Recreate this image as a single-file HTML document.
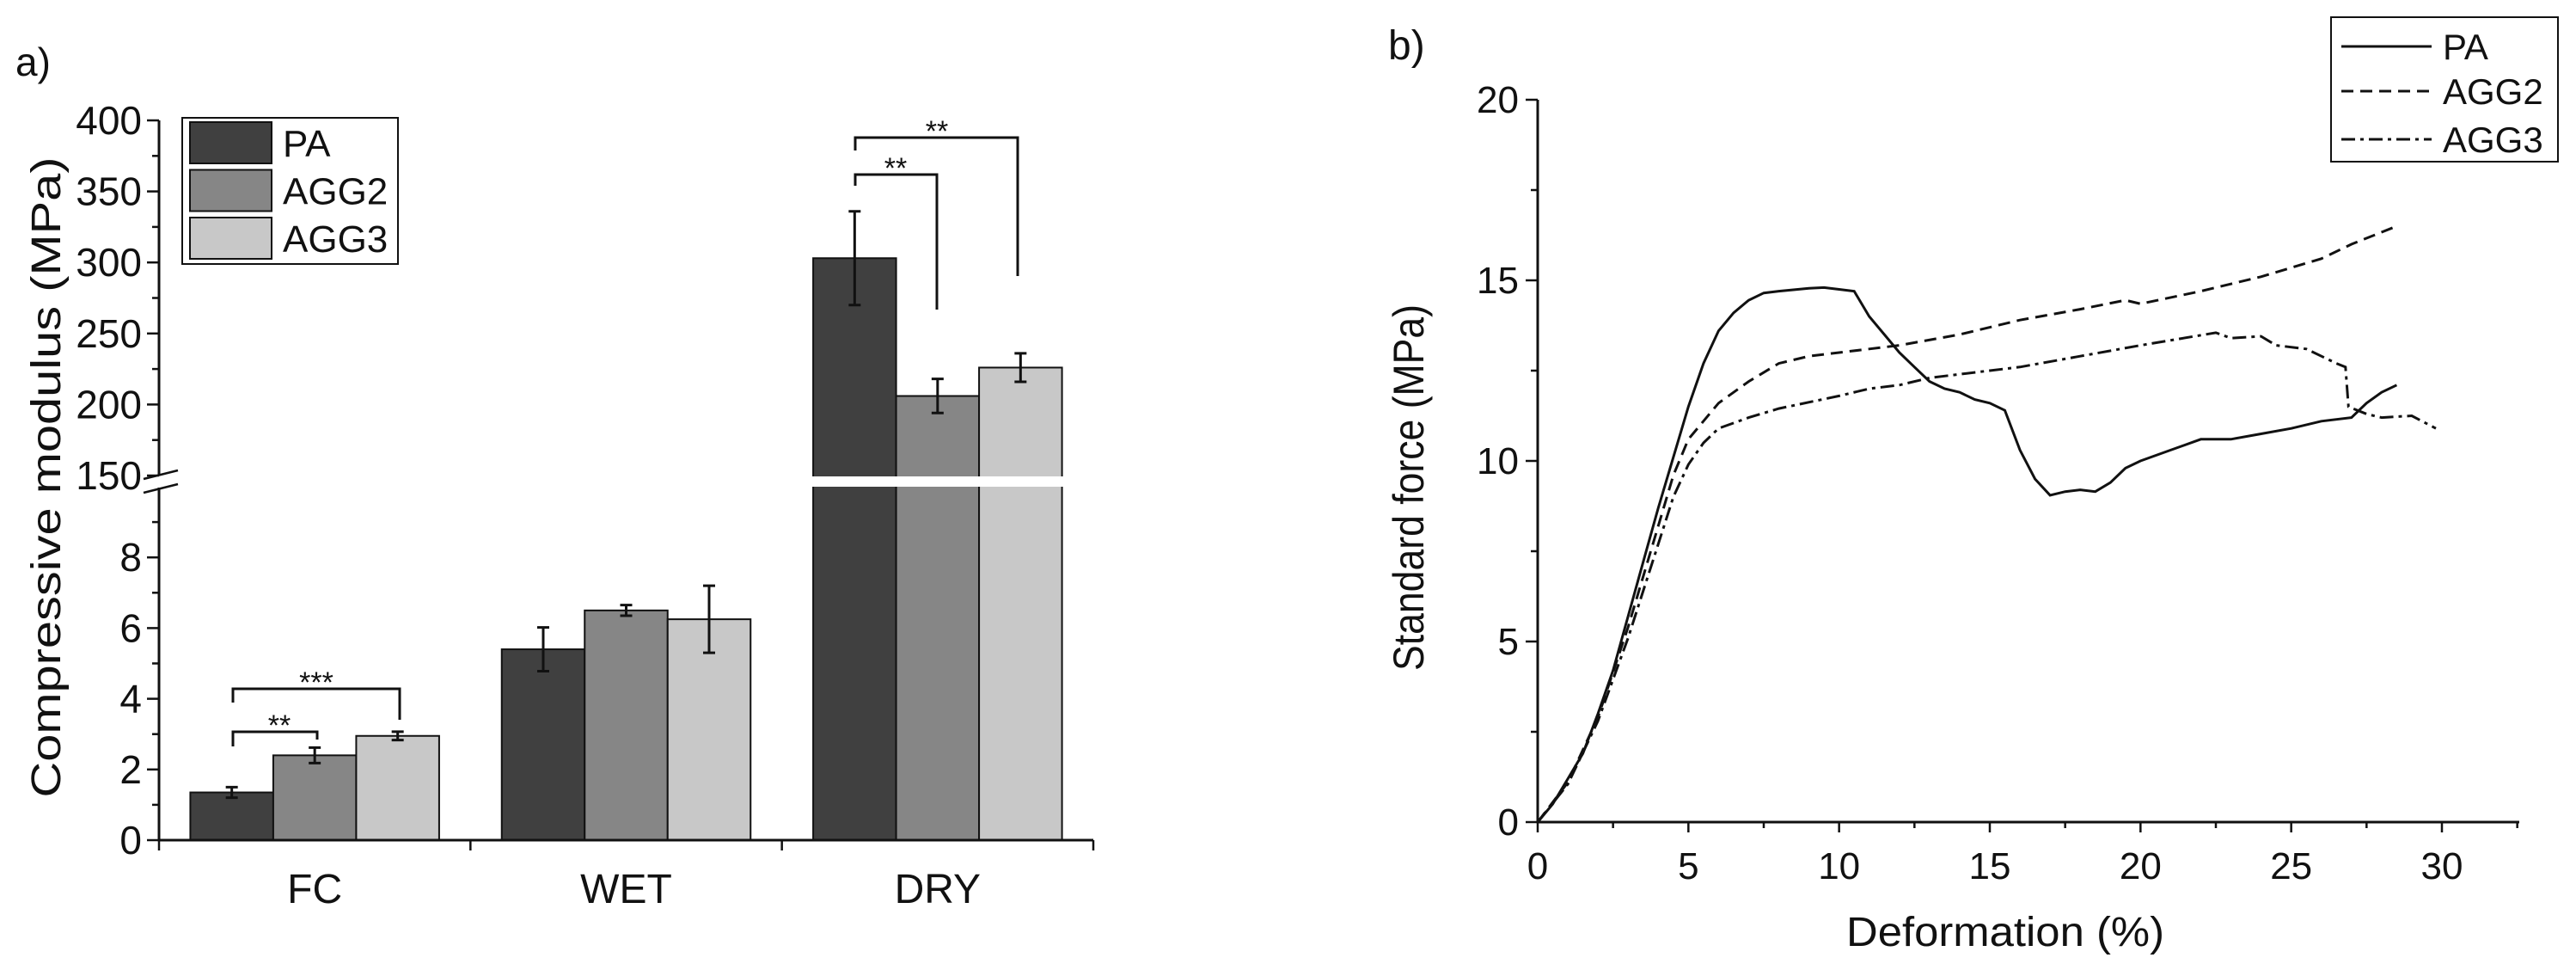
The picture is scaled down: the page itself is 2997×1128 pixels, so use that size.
<!DOCTYPE html>
<html><head><meta charset="utf-8"><style>
html,body{margin:0;padding:0;background:#fff;overflow:hidden;}
svg{display:block;font-family:"Liberation Sans",sans-serif;}
</style></head><body>
<svg id="fig" width="2997" height="1128" viewBox="0 0 2997 1128" xmlns="http://www.w3.org/2000/svg">
<g id="pa"></g>
<g id="pb"></g>
</svg>
<script>
// ---- Panel a data ----
const categories = ["FC", "WET", "DRY"];
const seriesNames = ["PA", "AGG2", "AGG3"];
const valuesPA = [1.35, 5.4, 303];
const valuesAGG2 = [2.4, 6.5, 206];
const valuesAGG3 = [2.95, 6.25, 226];
const errPA = [0.15, 0.62, 33];
const errAGG2 = [0.22, 0.15, 12];
const errAGG3 = [0.12, 0.95, 10];
const lowerTicks = [0, 2, 4, 6, 8];
const upperTicks = [150, 200, 250, 300, 350, 400];

// ---- Panel b data ----
const paX = [0,0.5,1,1.5,2,2.5,3,3.5,4,4.5,5,5.5,6,6.5,7,7.5,8,9,9.5,10,10.5,11,11.5,12,12.5,13,13.5,14,14.5,15,15.5,16,16.5,17,17.5,18,18.5,19,19.5,20,21,22,23,24,25,26,27,27.5,28,28.5];
const paY = [0,0.5,1.2,1.9,3,4.2,5.7,7.2,8.7,10.1,11.5,12.7,13.6,14.1,14.45,14.65,14.7,14.78,14.8,14.75,14.7,14.0,13.5,13.0,12.6,12.2,12.0,11.9,11.7,11.6,11.4,10.3,9.5,9.05,9.15,9.2,9.15,9.4,9.8,10.0,10.3,10.6,10.6,10.75,10.9,11.1,11.2,11.6,11.9,12.1];
const agg2X = [0,1,2,3,4,4.5,5,6,7,8,9,10,12,14,16,18,19.5,20,22,24,26,27,28.5];
const agg2Y = [0,1.1,2.9,5.4,8.2,9.6,10.6,11.6,12.2,12.7,12.9,13.0,13.2,13.5,13.9,14.2,14.45,14.35,14.7,15.1,15.6,16.0,16.5];
const agg3X = [0,1,2,3,4,4.5,5,5.5,6,7,8,10,11,12,13,15,16,18,20,22.5,23,24,24.5,25.5,26.5,26.8,26.9,27.5,28,29,29.8];
const agg3Y = [0,1.05,2.8,5.1,7.7,9.0,9.9,10.5,10.9,11.2,11.45,11.8,12.0,12.1,12.3,12.5,12.6,12.9,13.2,13.55,13.4,13.45,13.2,13.1,12.7,12.6,11.5,11.3,11.2,11.25,10.9];
const xTicksB = [0,5,10,15,20,25,30];
const yTicksB = [0,5,10,15,20];

const NS = "http://www.w3.org/2000/svg";
function mk(parent, tag, attrs, text) {
  const e = document.createElementNS(NS, tag);
  for (const k in attrs) e.setAttribute(k, attrs[k]);
  if (text !== undefined) e.textContent = text;
  parent.appendChild(e);
  return e;
}
const pa = document.getElementById("pa");
const pb = document.getElementById("pb");

// ===== Panel a =====
const AX0 = 185, AY0 = 977, AXR = 1272;
const LOW_TOP = 567, UP_BOT = 553, UP_TOP = 140;
function yA(v) {
  if (v <= 10) return AY0 - v * 41.1;
  return UP_BOT - (v - 150) * (UP_BOT - UP_TOP) / 250;
}
function xCat(i) { return AX0 + (i + 0.5) * (AXR - AX0) / 3; }
const BW = 96.5;
const colors = ["#404040", "#868686", "#c8c8c8"];
const vals = [valuesPA, valuesAGG2, valuesAGG3];
const errs = [errPA, errAGG2, errAGG3];

for (let c = 0; c < categories.length; c++) {
  for (let s = 0; s < 3; s++) {
    const x = xCat(c) + (s - 1.5) * BW;
    const v = vals[s][c];
    const top = yA(v);
    let r = mk(pa, "rect", {x: x, y: top, width: BW, height: AY0 - top, fill: colors[s], stroke: "#111", "stroke-width": 2});
    
    
    const cx = x + BW / 2, e = errs[s][c];
    let eb = mk(pa, "path", {d: `M${cx-7},${yA(v+e)}H${cx+7}M${cx},${yA(v+e)}V${yA(v-e)}M${cx-7},${yA(v-e)}H${cx+7}`, stroke: "#111", "stroke-width": 3, fill: "none"});
    
    
  }
}
let gap = mk(pa, "rect", {x: AX0 - 30, y: UP_BOT + 1, width: AXR - AX0 + 40, height: LOW_TOP - UP_BOT - 2, fill: "#fff"});


let ax = mk(pa, "path", {d: `M${AX0},${UP_TOP}V${UP_BOT}M${AX0},${LOW_TOP}V${AY0}H${AXR}`, stroke: "#111", "stroke-width": 3, fill: "none"});


let brk = mk(pa, "path", {d: `M${AX0-18},${UP_BOT+4}L${AX0+22},${UP_BOT-6}M${AX0-18},${LOW_TOP+6}L${AX0+22},${LOW_TOP-4}`, stroke: "#111", "stroke-width": 2.5});


for (let v = 0; v <= 9; v++) {
  const y = yA(v), major = v % 2 === 0;
  mk(pa, "line", {x1: AX0 - (major ? 14 : 8), x2: AX0, y1: y, y2: y, stroke: "#111", "stroke-width": 2.5});
}
for (let v = 150; v <= 400; v += 25) {
  const y = yA(v), major = v % 50 === 0;
  mk(pa, "line", {x1: AX0 - (major ? 14 : 8), x2: AX0, y1: y, y2: y, stroke: "#111", "stroke-width": 2.5});
}
lowerTicks.concat(upperTicks).forEach(v => {
  let t = mk(pa, "text", {x: AX0 - 20, y: yA(v) + 16, "text-anchor": "end", "font-size": 46, fill: "#111"}, String(v));
  
  
});
for (let i = 0; i <= 3; i++) {
  const x = AX0 + i * (AXR - AX0) / 3;
  mk(pa, "line", {x1: x, x2: x, y1: AY0, y2: AY0 + 12, stroke: "#111", "stroke-width": 2.5});
}
categories.forEach((c, i) => {
  let t = mk(pa, "text", {x: xCat(i), y: 1050, "text-anchor": "middle", "font-size": 48, fill: "#111"}, c);
  
  
});
let yt = mk(pa, "text", {x: 0, y: 0, "text-anchor": "middle", "font-size": 48, fill: "#111", transform: "translate(70,555) rotate(-90)", textLength: 745, lengthAdjust: "spacingAndGlyphs"}, "Compressive modulus (MPa)");


let la = mk(pa, "text", {x: 18, y: 88, "font-size": 46, fill: "#111"}, "a)");


const sig = [
  ["M271,868V851H369V860", 325, 845, "**"],
  ["M271,817V801H465V837", 368, 795, "***"],
  ["M995,216V203H1090V360", 1042, 197, "**"],
  ["M995,175V160H1184V321", 1090, 154, "**"]
];
sig.forEach(s => {
  let p = mk(pa, "path", {d: s[0], stroke: "#111", "stroke-width": 3, fill: "none"});
  
  
  let t = mk(pa, "text", {x: s[1], y: s[2] + 10, "text-anchor": "middle", "font-size": 34, fill: "#111"}, s[3]);
  
  
});
const lg = mk(pa, "g", {});


mk(lg, "rect", {x: 212, y: 137, width: 251, height: 170, fill: "#fff", stroke: "#111", "stroke-width": 2});
seriesNames.forEach((n, i) => {
  const y = 142 + i * 55.5;
  let e = mk(lg, "g", {});
  
  
  mk(e, "rect", {x: 221, y: y, width: 95, height: 48, fill: colors[i], stroke: "#111", "stroke-width": 2});
  mk(e, "text", {x: 329, y: y + 40, "font-size": 44, fill: "#111"}, n);
});

// ===== Panel b =====
const BX0 = 1789, BY0 = 956, BXR = 2931, BTOP = 116;
function xB(v) { return BX0 + v * (2841 - BX0) / 30; }
function yB(v) { return BY0 - v * (BY0 - BTOP) / 20; }
let axb = mk(pb, "path", {d: `M${BX0},${yB(20)}V${BY0}H${BXR}`, stroke: "#111", "stroke-width": 3, fill: "none"});


for (let v = 0; v <= 32.5; v += 2.5) {
  const major = v % 5 === 0;
  mk(pb, "line", {x1: xB(v), x2: xB(v), y1: BY0, y2: BY0 + (major ? 12 : 7), stroke: "#111", "stroke-width": 2.5});
}
for (let v = 0; v <= 20; v += 2.5) {
  const major = v % 5 === 0;
  mk(pb, "line", {x1: BX0 - (major ? 14 : 8), x2: BX0, y1: yB(v), y2: yB(v), stroke: "#111", "stroke-width": 2.5});
}
xTicksB.forEach(v => {
  let t = mk(pb, "text", {x: xB(v), y: BY0 + 66, "text-anchor": "middle", "font-size": 44, fill: "#111"}, String(v));
  
  
});
yTicksB.forEach(v => {
  let t = mk(pb, "text", {x: BX0 - 22, y: yB(v) + 15, "text-anchor": "end", "font-size": 44, fill: "#111"}, String(v));
  
  
});
let xtb = mk(pb, "text", {x: 2333, y: 1100, "text-anchor": "middle", "font-size": 48, fill: "#111", textLength: 370, lengthAdjust: "spacingAndGlyphs"}, "Deformation (%)");


let ytb = mk(pb, "text", {x: 0, y: 0, "text-anchor": "middle", "font-size": 50, fill: "#111", transform: "translate(1656,567) rotate(-90)", textLength: 426, lengthAdjust: "spacingAndGlyphs"}, "Standard force (MPa)");


let lb = mk(pb, "text", {x: 1615, y: 69, "font-size": 48, fill: "#111"}, "b)");


const dashes = ["none", "14,8", "16,6,4,6"];
const curves = [[paX, paY], [agg2X, agg2Y], [agg3X, agg3Y]];
curves.forEach((cv, i) => {
  const d = cv[0].map((x, j) => (j ? "L" : "M") + xB(x).toFixed(1) + "," + yB(cv[1][j]).toFixed(1)).join("");
  let p = mk(pb, "path", {d: d, stroke: "#111", "stroke-width": 3, fill: "none", "stroke-dasharray": dashes[i]});
  
  
});
const lgb = mk(pb, "g", {});


mk(lgb, "rect", {x: 2712, y: 20, width: 264, height: 168, fill: "#fff", stroke: "#111", "stroke-width": 2});
seriesNames.forEach((n, i) => {
  const y = [54, 106, 162][i];
  let e = mk(lgb, "g", {});
  
  
  mk(e, "line", {x1: 2724, x2: 2829, y1: y, y2: y, stroke: "#111", "stroke-width": 3, "stroke-dasharray": dashes[i]});
  mk(e, "text", {x: 2842, y: y + 15, "font-size": 42, fill: "#111"}, n);
});
</script>
</body></html>
